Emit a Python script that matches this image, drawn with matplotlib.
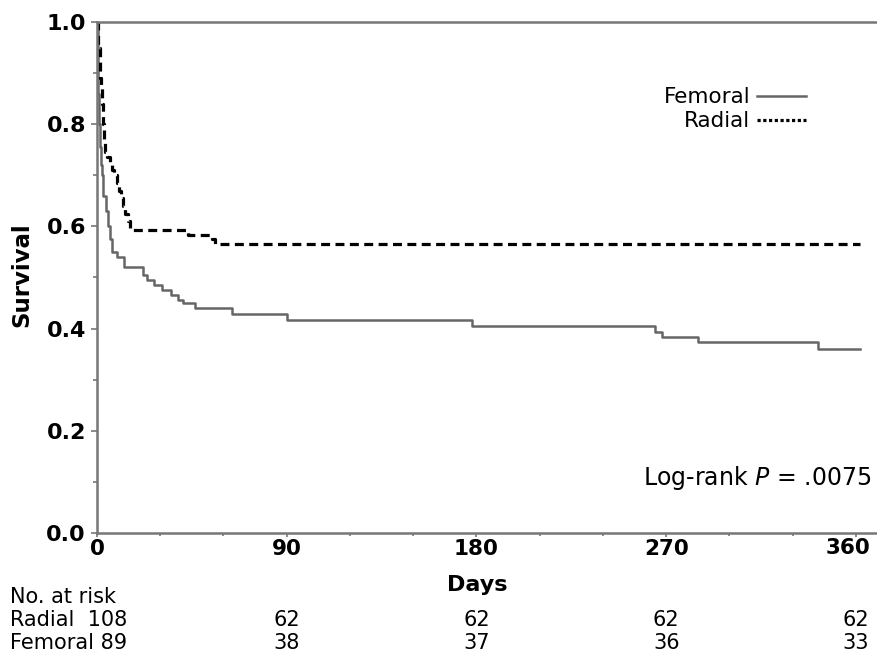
import matplotlib
matplotlib.use("Agg")
import matplotlib.pyplot as plt
import matplotlib.transforms as mtransforms
from matplotlib.lines import Line2D

# Kaplan-Meier steps (days, survival)
femoral_t = [0, 0.3, 0.7, 1.0, 1.4, 2.0, 2.3, 3.0, 4.5, 5.3, 6.2, 7.2, 9.5, 13,
             22, 23.5, 27, 31, 35, 38.5, 41, 46.5, 64, 90, 178, 264.5, 268, 285, 342, 362]
femoral_s = [1.0, 0.93, 0.86, 0.80, 0.755, 0.72, 0.70, 0.66, 0.63, 0.60, 0.575, 0.55, 0.54, 0.52,
             0.505, 0.495, 0.485, 0.475, 0.465, 0.455, 0.45, 0.44, 0.428, 0.416, 0.405, 0.394, 0.384, 0.373, 0.361, 0.361]

radial_t = [0, 0.7, 1.2, 1.7, 2.2, 2.7, 3.2, 3.8, 4.7, 6.2, 7.2, 8.2, 9.5, 10.5, 11.5,
            12.5, 13.5, 14.5, 15.5, 43.3, 54.6, 56, 362]
radial_s = [1.0, 0.95, 0.89, 0.87, 0.84, 0.80, 0.77, 0.745, 0.735, 0.725, 0.71, 0.70, 0.685, 0.67, 0.655,
            0.64, 0.625, 0.61, 0.593, 0.584, 0.575, 0.565, 0.565]

# numbers at risk
risk_days = [90, 180, 270, 360]
radial_risk = [62, 62, 62, 62]
femoral_risk = [38, 37, 36, 33]

x_ticks = [0, 90, 180, 270, 360]
y_ticks = [0.0, 0.2, 0.4, 0.6, 0.8, 1.0]

fig = plt.figure(figsize=(8.77, 6.53), dpi=100)
ax = fig.add_axes([0.1106, 0.1838, 0.8894, 0.7825])

ax.step(femoral_t, femoral_s, where="post", color="#666666", lw=1.8)
ax.step(radial_t, radial_s, where="post", color="black", lw=2.3, dashes=(2.8, 1.7))

ax.set_xlim(0, 370)
ax.set_ylim(0, 1.0)

for side in ["left", "bottom", "top"]:
    ax.spines[side].set_color("#777777")
    ax.spines[side].set_linewidth(1.8)
ax.spines["right"].set_visible(False)

ax.set_xticks(x_ticks)
ax.set_xticks(range(30, 361, 30), minor=True)
ax.set_yticks(y_ticks)
ax.set_yticks([0.1, 0.3, 0.5, 0.7, 0.9], minor=True)
# last label "360" is drawn separately, nudged left so it stays in the picture
ax.set_xticklabels([str(v) for v in x_ticks[:-1]] + [""], fontsize=15.5, fontweight="bold")
ax.set_yticklabels(["%.1f" % v for v in y_ticks], fontsize=16, fontweight="bold")
ax.tick_params(which="both", colors="#777777", labelcolor="black", width=1.2)
ax.tick_params(axis="y", which="major", length=4, pad=4)
ax.tick_params(axis="y", which="minor", length=3)
ax.tick_params(axis="x", which="major", length=3, pad=1)
ax.tick_params(axis="x", which="minor", length=2)

last_tr = mtransforms.offset_copy(ax.get_xaxis_transform(), fig=fig, x=-8, y=-5, units="dots")
ax.text(x_ticks[-1], 0, str(x_ticks[-1]), transform=last_tr, ha="center", va="top",
        fontsize=15.5, fontweight="bold", clip_on=False)

ax.set_xlabel("Days", fontsize=16, fontweight="bold", va="center")
ax.xaxis.set_label_coords(0.487, -0.102)
ax.set_ylabel("Survival", fontsize=16.5, fontweight="bold", va="center")
ax.yaxis.set_label_coords(-0.096, 0.505)

handles = [Line2D([], [], color="#666666", lw=1.8),
           Line2D([], [], color="black", lw=2.3, dashes=(1.0, 0.8))]
ax.legend(handles, ["Femoral", "Radial"], loc="upper right", bbox_to_anchor=(0.909, 0.872),
          frameon=False, markerfirst=False, fontsize=15.5, handlelength=2.3,
          handletextpad=0.3, labelspacing=0.18, borderpad=0, borderaxespad=0)

ax.text(0.993, 0.107, "Log-rank $P$ = .0075", transform=ax.transAxes,
        ha="right", va="center", fontsize=17)

# number at risk table
trans = ax.get_xaxis_transform()
fig.text(10 / 877, 1 - 597 / 653, "No. at risk", ha="left", va="center", fontsize=15)
fig.text(10 / 877, 1 - 620 / 653, "Radial  108", ha="left", va="center", fontsize=15)
fig.text(10 / 877, 1 - 643 / 653, "Femoral 89", ha="left", va="center", fontsize=15)
for d, r, f in zip(risk_days, radial_risk, femoral_risk):
    ax.text(d, -0.170, str(r), transform=trans, ha="center", va="center", fontsize=15, clip_on=False)
    ax.text(d, -0.215, str(f), transform=trans, ha="center", va="center", fontsize=15, clip_on=False)

fig.savefig("out.png", dpi=100)
